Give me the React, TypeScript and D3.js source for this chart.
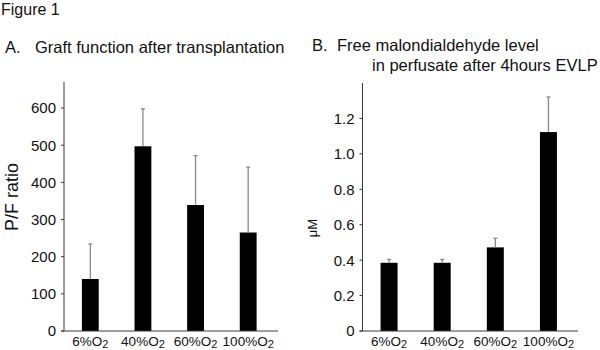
import React from 'react';
import * as d3 from 'd3';

const categories = ['6%O', '40%O', '60%O', '100%O'];

// panel A: P/F ratio
const pfMeans = [140, 497, 339, 265];
const pfErrors = [94, 101, 133, 176];
const pfTicks = [0, 100, 200, 300, 400, 500, 600];

// panel B: free malondialdehyde (uM)
const mdaMeans = [0.385, 0.385, 0.472, 1.123];
const mdaErrors = [0.019, 0.019, 0.051, 0.198];
const mdaTicks = [0, 0.2, 0.4, 0.6, 0.8, 1.0, 1.2];

const FONT = '"Liberation Sans", Arial, sans-serif';
const AXIS = '#3a3a3a';

type PanelProps = {
  left: number;
  right: number;
  axisEnd: number;
  top: number;
  bottom: number;
  yMax: number;
  means: number[];
  errors: number[];
  ticks: number[];
  fmt: (v: number) => string;
  label: string;
  labelX: number;
  labelY: number;
  labelSize: number;
};

function Panel(p: PanelProps) {
  const x = d3.scaleBand<string>().domain(categories).range([p.left, p.right]);
  const y = d3.scaleLinear().domain([0, p.yMax]).range([p.bottom, p.top]);
  const barW = x.bandwidth() * 0.32;

  return (
    <g>
      {/* bars */}
      {categories.map((c, i) => {
        const cx = (x(c) as number) + x.bandwidth() / 2;
        return (
          <rect
            key={c}
            x={cx - barW / 2}
            y={y(p.means[i])}
            width={barW}
            height={p.bottom - y(p.means[i])}
            fill="#000"
          />
        );
      })}
      {/* error bars, upper only */}
      {categories.map((c, i) => {
        const cx = (x(c) as number) + x.bandwidth() / 2;
        const hi = y(p.means[i] + p.errors[i]);
        return (
          <g key={'e' + c} stroke="#8a8a8a" strokeWidth={1.3}>
            <line x1={cx} x2={cx} y1={y(p.means[i])} y2={hi} />
            <line x1={cx - 2} x2={cx + 2} y1={hi} y2={hi} />
          </g>
        );
      })}
      {/* axes */}
      <line x1={p.left} x2={p.left} y1={p.top} y2={p.bottom} stroke={AXIS} strokeWidth={1} />
      <line x1={p.left - 3} x2={p.axisEnd} y1={p.bottom} y2={p.bottom} stroke={AXIS} strokeWidth={1} />
      {p.ticks.map((t) => (
        <g key={t}>
          <line x1={p.left - 3} x2={p.left} y1={y(t)} y2={y(t)} stroke={AXIS} />
          <text
            x={p.left - 8}
            y={y(t)}
            dy="0.36em"
            textAnchor="end"
            fontSize={15}
            fontFamily={FONT}
            fill="#111"
          >
            {p.fmt(t)}
          </text>
        </g>
      ))}
      {categories.map((c) => (
        <text
          key={'l' + c}
          x={(x(c) as number) + x.bandwidth() / 2}
          y={p.bottom + 15}
          textAnchor="middle"
          fontSize={13.5}
          fontFamily={FONT}
          fill="#111"
        >
          {c}
          <tspan fontSize={11} dy={1.5}>2</tspan>
        </text>
      ))}
      <text
        transform={`translate(${p.labelX},${p.labelY}) rotate(-90)`}
        textAnchor="middle"
        dy="0.36em"
        fontSize={p.labelSize}
        fontFamily={FONT}
        fill="#111"
      >
        {p.label}
      </text>
    </g>
  );
}

export default function App() {
  return (
    <svg
      width={600}
      height={350}
      style={{ position: 'absolute', left: 0, top: 0, background: '#fff' }}
    >
      <rect width={600} height={350} fill="#fff" />
      <text x={1} y={15} fontSize={16} fontFamily={FONT} fill="#111">
        Figure 1
      </text>
      <text x={5} y={53} fontSize={16.5} fontFamily={FONT} fill="#111">
        A.
      </text>
      <text x={35} y={53} fontSize={16.5} fontFamily={FONT} fill="#111">
        Graft function after transplantation
      </text>
      <text x={312} y={51} fontSize={16.5} fontFamily={FONT} fill="#111">
        B.
      </text>
      <text x={337} y={51} fontSize={16.5} fontFamily={FONT} fill="#111">
        Free malondialdehyde level
      </text>
      <text x={372} y={71} fontSize={16.5} fontFamily={FONT} fill="#111">
        in perfusate after 4hours EVLP
      </text>

      <Panel
        left={64}
        right={274.5}
        axisEnd={278}
        top={82}
        bottom={331}
        yMax={670}
        means={pfMeans}
        errors={pfErrors}
        ticks={pfTicks}
        fmt={(v) => String(v)}
        label="P/F ratio"
        labelX={12}
        labelY={197}
        labelSize={18}
      />
      <Panel
        left={362.5}
        right={575}
        axisEnd={578}
        top={83}
        bottom={331}
        yMax={1.4}
        means={mdaMeans}
        errors={mdaErrors}
        ticks={mdaTicks}
        fmt={(v) => (v === 0 ? '0' : v.toFixed(1))}
        label="μM"
        labelX={312}
        labelY={228}
        labelSize={13}
      />
    </svg>
  );
}
